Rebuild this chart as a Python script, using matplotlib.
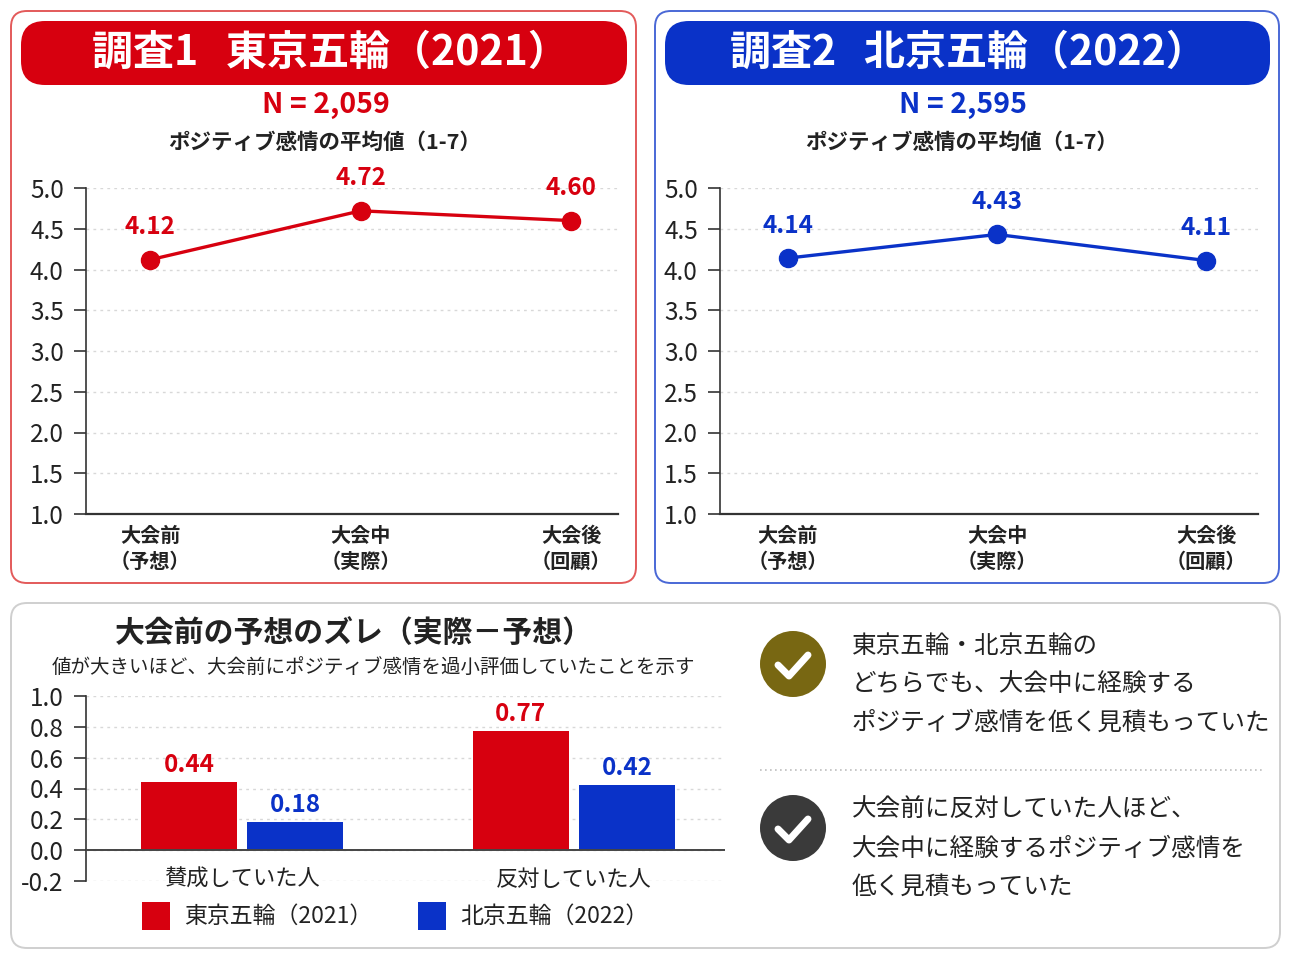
import matplotlib.pyplot as plt
from matplotlib.patches import FancyBboxPatch, Circle, Rectangle
from matplotlib.lines import Line2D
from matplotlib.ticker import FormatStrFormatter

plt.rcParams['font.family'] = ['Noto Sans CJK JP', 'DejaVu Sans']
plt.rcParams['axes.unicode_minus'] = False

# --- data ---
stages = ['大会前\n（予想）', '大会中\n（実際）', '大会後\n（回顧）']
tokyo_means = [4.12, 4.72, 4.60]
beijing_means = [4.14, 4.43, 4.11]
tokyo_n = 2059
beijing_n = 2595

groups = ['賛成していた人', '反対していた人']
tokyo_gap = [0.44, 0.77]
beijing_gap = [0.18, 0.42]

series_names = ['東京五輪（2021）', '北京五輪（2022）']
points = [
    ['東京五輪・北京五輪の', 'どちらでも、大会中に経験する', 'ポジティブ感情を低く見積もっていた'],
    ['大会前に反対していた人ほど、', '大会中に経験するポジティブ感情を', '低く見積もっていた'],
]

RED = '#d7000f'
BLUE = '#0a32c8'
DARK = '#222222'
GRID = '#d8d8d8'

W, H = 1290, 967
fig = plt.figure(figsize=(W / 100, H / 100), dpi=100)

# background layer in pixel coordinates
bg = fig.add_axes([0, 0, 1, 1])
bg.set_xlim(0, W)
bg.set_ylim(H, 0)
bg.axis('off')


def rbox(x0, y0, x1, y1, r, fc, ec, lw):
    p = FancyBboxPatch((x0 + r, y0 + r), x1 - x0 - 2 * r, y1 - y0 - 2 * r,
                       boxstyle=f'round,pad={r}', fc=fc, ec=ec, lw=lw)
    bg.add_patch(p)


def px_axes(left, top, right, bottom):
    return fig.add_axes([left / W, (H - bottom) / H, (right - left) / W, (bottom - top) / H])


# panel frames
rbox(11, 11, 636, 583, 16, 'white', '#e35a5a', 1.4)
rbox(655, 11, 1279, 583, 16, 'white', '#4a68d6', 1.4)
rbox(11, 603, 1280, 948, 16, 'white', '#cfcfcf', 1.4)

# headers
rbox(21, 21, 627, 85, 24, RED, 'none', 0)
rbox(665, 21, 1270, 85, 24, BLUE, 'none', 0)
bg.text(330, 53, '調査1   東京五輪（2021）', color='white', fontsize=29.5,
        fontweight='bold', ha='center', va='center')
bg.text(968, 53, '調査2   北京五輪（2022）', color='white', fontsize=29.5,
        fontweight='bold', ha='center', va='center')
bg.text(326, 105, f'N = {tokyo_n:,}', color=RED, fontsize=20.5, fontweight='bold',
        ha='center', va='center')
bg.text(963, 105, f'N = {beijing_n:,}', color=BLUE, fontsize=20.5, fontweight='bold',
        ha='center', va='center')
for cx in (325, 962):
    bg.text(cx, 142, 'ポジティブ感情の平均値（1-7）', color=DARK, fontsize=15.5,
            fontweight='bold', ha='center', va='center')


def line_panel(ax, values, color, xlim):
    x = range(len(values))
    ax.plot(x, values, color=color, lw=2.4, marker='o', ms=13, zorder=3, clip_on=False)
    for xi, v in zip(x, values):
        ax.text(xi, v + 0.25, f'{v:.2f}', color=color, fontsize=17.5, fontweight='bold',
                ha='center', va='bottom')
    ax.set_ylim(1.0, 5.0)
    ax.set_xlim(*xlim)
    ax.set_yticks([1.0 + 0.5 * i for i in range(9)])
    ax.yaxis.set_major_formatter(FormatStrFormatter('%.1f'))
    ax.set_xticks(list(x))
    ax.set_xticklabels(stages, fontsize=14.5, fontweight='bold', color=DARK, linespacing=1.3)
    ax.tick_params(axis='x', length=0, pad=8)
    ax.tick_params(axis='y', length=9, width=1.2, color='#333333', labelsize=17.5,
                   labelcolor=DARK, pad=7)
    ax.yaxis.grid(True, ls=(0, (2, 3)), color=GRID, lw=1)
    ax.set_axisbelow(True)
    for s in ('top', 'right'):
        ax.spines[s].set_visible(False)
    ax.spines['left'].set_color('#333333')
    ax.spines['bottom'].set_color('#333333')
    ax.spines['left'].set_linewidth(1.2)
    ax.spines['bottom'].set_linewidth(1.6)
    ax.set_facecolor('none')


ax1 = px_axes(86, 188, 618, 514)
line_panel(ax1, tokyo_means, RED, (-0.305, 2.222))
ax2 = px_axes(720, 188, 1258, 514)
line_panel(ax2, beijing_means, BLUE, (-0.325, 2.249))

# bar chart
bg.text(354, 633, '大会前の予想のズレ（実際－予想）', color=DARK, fontsize=21.5,
        fontweight='bold', ha='center', va='center')
bg.text(373, 667, '値が大きいほど、大会前にポジティブ感情を過小評価していたことを示す',
        color=DARK, fontsize=14, ha='center', va='center')

ax3 = px_axes(86, 696, 725, 881)
bw = 0.289
xs = list(range(len(groups)))
ax3.bar([x - 0.16 for x in xs], tokyo_gap, width=bw, color=RED, zorder=3)
ax3.bar([x + 0.16 for x in xs], beijing_gap, width=bw, color=BLUE, zorder=3)
for x, v in zip(xs, tokyo_gap):
    ax3.text(x - 0.16, v + 0.035, f'{v:.2f}', color=RED, fontsize=17.5, fontweight='bold',
             ha='center', va='bottom')
for x, v in zip(xs, beijing_gap):
    ax3.text(x + 0.16, v + 0.035, f'{v:.2f}', color=BLUE, fontsize=17.5, fontweight='bold',
             ha='center', va='bottom')
for x, g in zip(xs, groups):
    ax3.text(x, -0.19, g, color=DARK, fontsize=16, ha='center', va='center')
ax3.axhline(0, color='#444444', lw=1.4, zorder=4)
ax3.set_ylim(-0.2, 1.0)
ax3.set_xlim(-0.47, 1.455)
ax3.set_yticks([-0.2 + 0.2 * i for i in range(7)])
ax3.yaxis.set_major_formatter(FormatStrFormatter('%.1f'))
ax3.set_xticks([])
ax3.tick_params(axis='y', length=9, width=1.2, color='#333333', labelsize=17.5,
                labelcolor=DARK, pad=7)
ax3.yaxis.grid(True, ls=(0, (2, 3)), color=GRID, lw=1)
ax3.set_axisbelow(True)
for s in ('top', 'right', 'bottom'):
    ax3.spines[s].set_visible(False)
ax3.spines['left'].set_color('#333333')
ax3.spines['left'].set_linewidth(1.2)
ax3.set_facecolor('none')

# legend
for (lx, tx), name, c in zip([(142, 184), (418, 460)], series_names, [RED, BLUE]):
    bg.add_patch(Rectangle((lx, 902), 28, 28, fc=c, ec='none'))
    bg.text(tx, 916, name, color=DARK, fontsize=16.5, ha='left', va='center')

# right-hand notes
for cy, col, lines in zip([664, 828], ['#786712', '#3a3a3a'], points):
    bg.add_patch(Circle((793, cy), 33, fc=col, ec='none'))
    bg.add_line(Line2D([778, 789, 808], [cy + 1, cy + 12, cy - 9], color='white',
                       lw=5, solid_capstyle='round', solid_joinstyle='round'))
    top = cy - 18
    for i, t in enumerate(lines):
        bg.text(852, top + 38.5 * i, t, color=DARK, fontsize=17.7, ha='left', va='center')

bg.add_line(Line2D([760, 1262], [770, 770], color='#bdbdbd', lw=1.2, ls=(0, (1, 2))))

fig.savefig('out.png', dpi=100, facecolor='white')
